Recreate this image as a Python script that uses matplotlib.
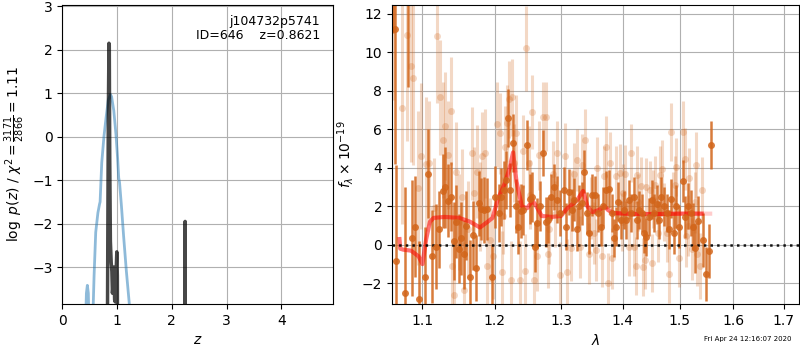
#! /usr/bin/env python3
import matplotlib
matplotlib.use('Agg')
import matplotlib.pyplot as plt
from matplotlib.ticker import FixedLocator, FixedFormatter, NullLocator

# ---- p(z) panel ----
pz_blue_z = [0.40, 0.42, 0.44, 0.457, 0.475, 0.49, 0.52, 0.55, 0.58, 0.61, 0.65,
             0.68, 0.69, 0.72, 0.76, 0.80, 0.84, 0.88, 0.90, 0.94, 0.98, 1.01,
             1.03, 1.045, 1.08, 1.12, 1.17, 1.22, 1.25]
pz_blue = [-6.0, -4.5, -3.6, -3.42, -3.6, -4.5, -6.0, -4.5, -3.2, -2.2, -1.75,
           -1.55, -1.5, -0.6, 0.0, 0.45, 0.85, 0.97, 0.92, 0.6, 0.05, -0.5,
           -0.95, -1.05, -1.6, -2.3, -3.1, -3.8, -4.3]

pz_black_z = [0.805, 0.84, 0.852, 0.858, 0.866, 0.878, 0.893, 0.905, 0.915, 0.925,
              0.94, 0.955, 0.965, 0.98, 0.995, 1.005, 1.02, 1.10, 2.236, 2.243, 2.25]
pz_black = [-10.0, 0.5, 2.15, 2.1, -0.5, -2.4, -2.9, -3.1, -3.6, -3.45,
            -3.0, -3.75, -3.8, -3.2, -2.65, -3.2, -10.0, -10.0, -10.0, -1.95, -10.0]

z_ticks = [0, 1, 2, 3, 4]
logp_ticks = [-3, -2, -1, 0, 1, 2, 3]

# ---- spectrum panel ----
dark_wave = [1.062, 1.0645, 1.066, 1.077, 1.0815, 1.0865, 1.090, 1.096, 1.104, 1.108,
             1.113, 1.118, 1.122, 1.128, 1.131, 1.134, 1.138, 1.142, 1.146, 1.149,
             1.153, 1.156, 1.160, 1.165, 1.169, 1.173, 1.177, 1.181, 1.185, 1.189,
             1.196, 1.200, 1.206, 1.209, 1.213, 1.217, 1.220, 1.223, 1.227, 1.231,
             1.235, 1.239, 1.242, 1.248, 1.252, 1.256, 1.260, 1.263, 1.268, 1.272,
             1.276, 1.280, 1.285, 1.289, 1.294, 1.298, 1.304, 1.308, 1.313, 1.317,
             1.321, 1.325, 1.329, 1.333, 1.337, 1.341, 1.345, 1.350, 1.355, 1.359,
             1.364, 1.368, 1.373, 1.377, 1.382, 1.386, 1.389, 1.393, 1.397, 1.402,
             1.406, 1.411, 1.415, 1.420, 1.424, 1.428, 1.433, 1.437, 1.441, 1.445,
             1.450, 1.454, 1.459, 1.463, 1.467, 1.472, 1.477, 1.481, 1.485, 1.490,
             1.494, 1.499, 1.505, 1.510, 1.515, 1.520, 1.525, 1.528, 1.534, 1.542,
             1.548, 1.553, 1.558]
dark_flux = [14.0, 11.2, -0.85, -2.5, 13.5, 0.35, 0.95, -2.8, -1.65, 3.7,
             -0.6, -0.1, 0.8, 2.8, 3.0, 2.3, 2.5, 0.2, 1.2, -0.2,
             0.35, -0.5, 1.0, -1.65, 0.5, -1.2, 2.15, 1.85, 1.8, 1.85,
             -1.65, 2.5, 1.65, 2.5, 2.85, 3.35, 6.6, 2.85, 5.3, 2.0,
             0.95, 1.75, 1.8, 5.2, 2.4, 2.5, -0.1, 1.15, 2.0, 4.75,
             1.2, 1.3, 2.5, 3.0, 2.35, 1.65, 2.85, 0.95, 2.75, 1.8,
             2.35, 0.8, 2.0, 2.15, 3.8, 1.65, 0.6, 2.6, 2.6, 1.65,
             0.95, 2.0, 2.85, 2.9, 1.65, 0.35, 0.95, 2.25, 1.3, 1.8,
             1.3, 2.35, 1.65, 2.5, 1.3, 1.8, 1.65, 0.6, 0.4, 1.45,
             2.35, 1.65, 2.1, 1.3, 2.5, 2.0, 1.65, 0.8, 2.4, 0.6,
             2.0, 0.95, 3.3, 1.45, 2.0, 1.65, 0.95, -0.15, 1.25, 0.25,
             -1.5, -0.3, 5.2]
dark_err = [3.0, 7.0, 5.0, 5.5, 5.3, 3.0, 2.6, 3.0, 2.6, 2.3,
            2.4, 2.2, 2.0, 1.9, 2.1, 1.9, 1.8, 2.0, 1.9, 1.8,
            1.9, 1.8, 1.8, 1.9, 1.8, 1.7, 1.7, 1.6, 1.7, 1.6,
            1.7, 1.6, 1.5, 1.5, 1.5, 1.5, 1.5, 1.4, 1.5, 1.4,
            1.4, 1.4, 1.3, 1.3, 1.3, 1.3, 1.3, 1.3, 1.3, 1.2,
            1.3, 1.2, 1.2, 1.2, 1.2, 1.2, 1.2, 1.2, 1.2, 1.1,
            1.1, 1.1, 1.1, 1.1, 1.1, 1.1, 1.1, 1.1, 1.0, 1.0,
            1.0, 1.0, 1.0, 1.0, 1.0, 1.0, 1.0, 1.0, 1.0, 1.0,
            1.0, 1.0, 1.0, 1.0, 1.0, 1.0, 1.0, 1.0, 1.0, 1.0,
            1.0, 1.0, 1.0, 1.0, 1.0, 1.0, 1.0, 1.0, 1.0, 1.1,
            1.1, 1.1, 1.1, 1.1, 1.2, 1.2, 1.2, 1.3, 1.3, 1.4,
            1.4, 1.4, 1.25]

light_wave = [1.063, 1.073, 1.080, 1.085, 1.088, 1.094, 1.098, 1.105, 1.109, 1.120,
              1.124, 1.128, 1.131, 1.134, 1.138, 1.140, 1.142, 1.146, 1.154, 1.157,
              1.162, 1.168, 1.171, 1.175, 1.182, 1.186, 1.189, 1.193, 1.198, 1.203,
              1.208, 1.210, 1.215, 1.218, 1.221, 1.224, 1.225, 1.229, 1.232, 1.237,
              1.242, 1.245, 1.246, 1.251, 1.256, 1.259, 1.263, 1.266, 1.272, 1.276,
              1.280, 1.282, 1.288, 1.294, 1.298, 1.306, 1.309, 1.315, 1.321, 1.326,
              1.330, 1.334, 1.338, 1.345, 1.352, 1.356, 1.357, 1.365, 1.369, 1.373,
              1.375, 1.379, 1.383, 1.389, 1.396, 1.400, 1.405, 1.411, 1.415, 1.419,
              1.423, 1.424, 1.432, 1.435, 1.438, 1.441, 1.447, 1.450, 1.456, 1.461,
              1.464, 1.468, 1.477, 1.481, 1.484, 1.491, 1.494, 1.498, 1.505, 1.510,
              1.512, 1.517, 1.523, 1.530, 1.532, 1.537, 1.540,
              1.116, 1.150, 1.179, 1.212, 1.253, 1.291, 1.318, 1.348, 1.399, 1.426,
              1.452, 1.471, 1.488, 1.515, 1.527]
light_flux = [13.5, 7.1, 10.9, 9.3, 8.65, 2.95, 4.6, 4.2, 4.25, 10.85,
              7.65, 5.45, 6.15, 4.65, 6.95, -1.1, -2.6, 3.8, 2.5, -2.35,
              0.8, 4.75, 2.7, 3.8, 4.6, 4.75, -1.1, 0.25, -0.6, 6.25,
              5.8, -1.4, 5.1, 6.3, 7.55, -1.8, 7.65, 4.25, 5.8, -1.8,
              4.85, -1.35, 10.2, 4.25, 6.9, -1.8, -0.6, 4.65, 6.65, 6.65,
              -0.45, 0.8, 3.7, 4.75, -1.55, 4.6, -1.4, -0.15, 3.7, 4.4,
              -0.1, 4.15, 5.45, -0.45, 0.6, -0.25, 4.0, -0.6, 3.55, 5.1,
              -2.0, 4.25, -0.7, 3.55, 3.75, 2.7, 3.7, -0.1, 4.75, -0.1,
              -1.1, 3.65, 3.05, -1.15, -0.8, 3.0, 2.85, -0.95, 3.1, 0.6,
              3.65, 3.95, 0.6, -1.5, 5.85, 3.1, 4.05, -0.7, 5.85, 4.45,
              0.45, 3.45, -0.2, 4.15, -0.45, -1.1, 2.85,
              1.9, 1.2, 2.0, 1.5, 2.6, 1.6, 2.3, 1.9, 1.2, 2.2,
              2.4, 1.7, 2.3, 1.0, 2.2]
light_err = [6.0, 6.0, 5.5, 5.0, 4.5, 4.0, 3.8, 3.5, 3.2, 3.5,
             3.0, 3.0, 2.8, 2.8, 2.8, 2.6, 2.6, 2.6, 2.5, 2.5,
             2.5, 2.4, 2.4, 2.4, 2.3, 2.3, 2.3, 2.2, 2.2, 2.2,
             2.1, 2.1, 2.1, 2.0, 2.0, 2.0, 2.0, 2.0, 2.0, 2.0,
             1.9, 1.9, 2.2, 1.9, 1.9, 1.8, 1.8, 1.8, 1.8, 1.8,
             1.8, 1.8, 1.7, 1.7, 1.7, 1.7, 1.7, 1.7, 1.6, 1.6,
             1.6, 1.6, 1.6, 1.6, 1.6, 1.6, 1.6, 1.6, 1.6, 1.6,
             1.6, 1.6, 1.6, 1.6, 1.5, 1.5, 1.5, 1.5, 1.5, 1.5,
             1.5, 1.5, 1.5, 1.5, 1.5, 1.5, 1.5, 1.5, 1.5, 1.5,
             1.5, 1.5, 1.5, 1.5, 1.5, 1.5, 1.5, 1.5, 1.6, 1.6,
             1.6, 1.6, 1.6, 1.7, 1.7, 1.7, 1.7,
             2.6, 2.5, 2.3, 2.0, 1.8, 1.7, 1.6, 1.6, 1.5, 1.5,
             1.5, 1.5, 1.5, 1.6, 1.6]

model_wave = [1.070, 1.071, 1.075, 1.085, 1.095, 1.100, 1.105, 1.110, 1.115, 1.130,
              1.150, 1.165, 1.179, 1.190, 1.197, 1.205, 1.215, 1.222, 1.227, 1.232,
              1.240, 1.248, 1.256, 1.262, 1.270, 1.285, 1.300, 1.310, 1.325, 1.335,
              1.342, 1.350, 1.360, 1.370, 1.376, 1.385, 1.420, 1.460, 1.500, 1.540]
model_flux = [0.3, -0.2, -0.25, -0.3, -0.6, -1.0, 0.3, 1.2, 1.4, 1.45,
              1.4, 1.2, 0.9, 1.2, 1.4, 2.4, 3.2, 4.0, 4.8, 3.3,
              2.0, 1.9, 2.3, 2.0, 1.5, 1.45, 1.5, 1.9, 2.3, 2.8,
              2.0, 1.7, 1.8, 2.0, 1.8, 1.65, 1.6, 1.6, 1.62, 1.62]
tail_wave = [1.380, 1.450, 1.500, 1.556]
tail_flux = [1.65, 1.6, 1.62, 1.62]

wave_ticks = [1.1, 1.2, 1.3, 1.4, 1.5, 1.6, 1.7]
wave_labels = ['1.1', '1.2', '1.3', '1.4', '1.5', '1.6', '1.7']
flux_ticks = [-2, 0, 2, 4, 6, 8, 10, 12]

spec_color = '#d2651a'

fig = plt.figure(figsize=(8, 3.5), dpi=100)
ax1 = fig.add_axes([0.0779, 0.1314, 0.3388, 0.8543])
ax2 = fig.add_axes([0.49, 0.1314, 0.5091, 0.8543])

# p(z)
ax1.plot(pz_blue_z, pz_blue, color='#1f77b4', alpha=0.5, lw=2)
ax1.plot(pz_black_z, pz_black, color='k', alpha=0.72, lw=2.5)
ax1.set_xlim(0, 4.95)
ax1.set_ylim(-3.85, 3.03)
ax1.set_xticks(z_ticks)
ax1.set_yticks(logp_ticks)
ax1.grid()
ax1.set_axisbelow(True)
ax1.set_xlabel(r'$z$')
ax1.set_ylabel(r'$\log\ p(z)$ / $\chi^2=\frac{3171}{2866}=1.11$')
ax1.text(0.95, 0.965, 'j104732p5741\nID=646    z=0.8621', ha='right', va='top',
         transform=ax1.transAxes, fontsize=9, linespacing=1.1)

# spectrum
ax2.errorbar(light_wave, light_flux, yerr=light_err, fmt='o', color=spec_color,
             alpha=0.25, ms=5, elinewidth=2.2, capsize=0, markeredgecolor='none')
ax2.errorbar(dark_wave, dark_flux, yerr=dark_err, fmt='o', color=spec_color,
             alpha=0.85, ms=5, elinewidth=1.8, capsize=0, markeredgecolor='none')
ax2.plot(tail_wave, tail_flux, color='r', alpha=0.2, lw=3)
ax2.plot(model_wave, model_flux, color='r', alpha=0.55, lw=3)
ax2.axhline(0, color='k', linestyle=':', lw=1.8, alpha=0.9)
ax2.set_xscale('log')
ax2.set_xlim(1.0604, 1.7324)
ax2.set_ylim(-3.07, 12.45)
ax2.xaxis.set_major_locator(FixedLocator(wave_ticks))
ax2.xaxis.set_major_formatter(FixedFormatter(wave_labels))
ax2.xaxis.set_minor_locator(NullLocator())
ax2.set_yticks(flux_ticks)
ax2.grid()
ax2.set_xlabel(r'$\lambda$')
ax2.set_ylabel(r'$f_\lambda\times10^{-19}$')

fig.text(0.935, 0.022, 'Fri Apr 24 12:16:07 2020', ha='center', va='bottom', fontsize=5)

fig.savefig('out.png', dpi=100)
